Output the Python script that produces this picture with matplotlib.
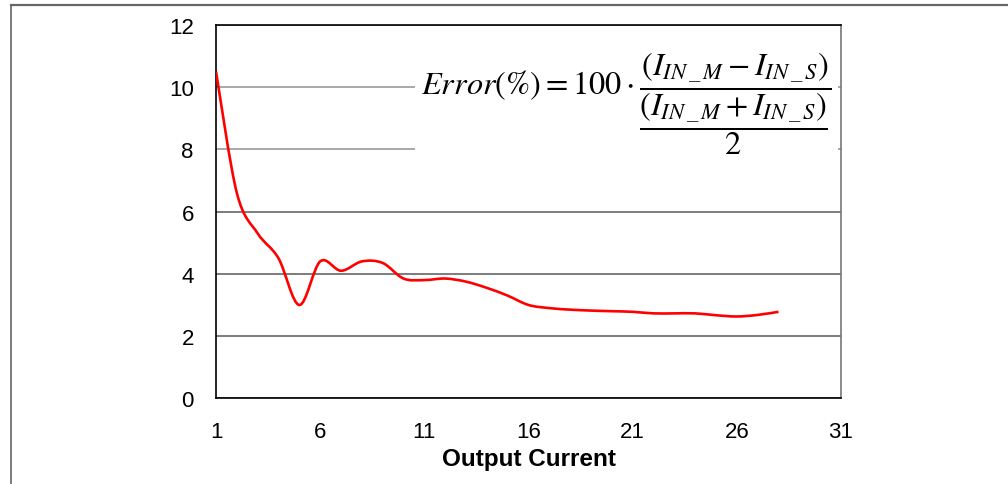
import numpy as np
import matplotlib
matplotlib.use("Agg")
import matplotlib.pyplot as plt
from matplotlib.path import Path
from matplotlib.patches import PathPatch
from matplotlib.lines import Line2D

# Data
output_current = list(range(1, 29))
error_pct = [10.5, 6.6, 5.3, 4.5, 3.0, 4.4, 4.1, 4.4, 4.35, 3.85,
             3.8, 3.85, 3.75, 3.55, 3.3, 3.0, 2.9, 2.85, 2.82, 2.8,
             2.78, 2.73, 2.73, 2.73, 2.67, 2.63, 2.68, 2.78]
x_ticks = [1, 6, 11, 16, 21, 26, 31]
y_ticks = [0, 2, 4, 6, 8, 10, 12]

formula = (r"$\mathit{Error}(\%) = 100\cdot"
           r"\dfrac{(I_{IN\,\_\,M} - I_{IN\,\_\,S})}"
           r"{\dfrac{(I_{IN\,\_\,M} + I_{IN\,\_\,S})}{2}}$")


def smooth_path(xs, ys):
    # Excel-style smoothed line: Catmull-Rom segments as cubic Beziers
    pts = np.column_stack([xs, ys]).astype(float)
    n = len(pts)
    verts = [pts[0]]
    codes = [Path.MOVETO]
    for i in range(n - 1):
        p0 = pts[i - 1] if i > 0 else pts[i]
        p1 = pts[i]
        p2 = pts[i + 1]
        p3 = pts[i + 2] if i + 2 < n else pts[i + 1]
        c1 = p1 + (p2 - p0) / 6.0
        c2 = p2 - (p3 - p1) / 6.0
        verts += [c1, c2, p2]
        codes += [Path.CURVE4] * 3
    return Path(verts, codes)


plt.rcParams['font.family'] = ['Liberation Sans', 'DejaVu Sans']
plt.rcParams['mathtext.fontset'] = 'stix'

fig = plt.figure(figsize=(10.08, 4.85), dpi=100)
ax = fig.add_axes([0.2143, 0.1767, 0.62, 0.7697])

ax.set_xlim(1, 31)
ax.set_ylim(0, 12)
ax.set_xticks(x_ticks)
ax.set_yticks(y_ticks)
ax.tick_params(length=0, labelsize=16, pad=16)

ax.yaxis.grid(True, color='#666666', linewidth=1.2)
ax.set_axisbelow(True)
for val, gl in zip(y_ticks, ax.get_ygridlines()):
    if val >= 8:
        gl.set_color('#9a9a9a')

for side in ['left', 'bottom', 'top']:
    ax.spines[side].set_color('black')
    ax.spines[side].set_linewidth(1.2)
ax.spines['right'].set_color('#777777')
ax.spines['right'].set_linewidth(1.2)

curve = PathPatch(smooth_path(output_current, error_pct), facecolor='none',
                  edgecolor='red', linewidth=1.9, transform=ax.transData,
                  zorder=3)
ax.add_patch(curve)

ax.set_xlabel('Output Current', fontsize=17.5, fontweight='bold', labelpad=4)

ax.text(0.985, 0.791, formula, transform=ax.transAxes, ha='right',
        va='center', fontsize=23.3, color='black', zorder=4,
        bbox=dict(facecolor='white', edgecolor='none', pad=4.5))

# outer frame of the picture
fig.add_artist(Line2D([0.0109, 1.0], [0.9876, 0.9876], color='#666666',
                      linewidth=1.6, transform=fig.transFigure))
fig.add_artist(Line2D([0.0109, 0.0109], [0.0, 0.9876], color='#666666',
                      linewidth=1.2, transform=fig.transFigure))

fig.savefig('out.png', dpi=100)
